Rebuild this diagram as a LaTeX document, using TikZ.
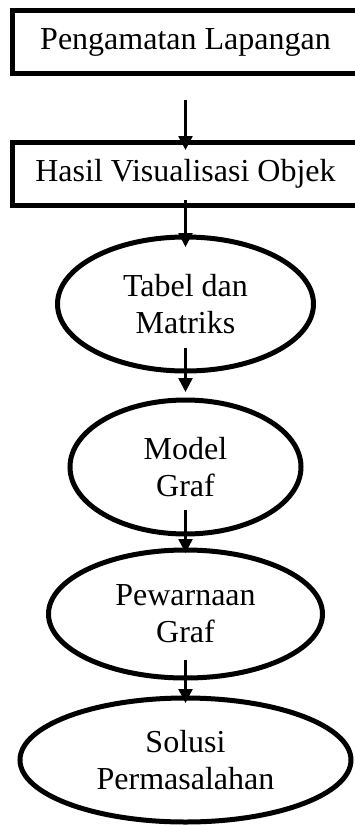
\documentclass[tikz,border=0pt]{standalone}
\usepackage{fontspec}
\setmainfont{Liberation Serif}
\usetikzlibrary{shapes.geometric,arrows.meta}
\begin{document}
\begin{tikzpicture}[
    x=1pt, y=-1pt,
    font=\fontsize{32}{37}\selectfont,
    block/.style={rectangle, draw, line width=5pt, minimum width=346pt, minimum height=63pt, inner sep=0pt},
    oval/.style={ellipse, draw, line width=5pt, align=center, inner sep=0pt},
    arrow/.style={-{Triangle[width=14pt,length=14pt]}, line width=2.5pt}
]
\useasboundingbox (0,0) rectangle (355,825);
\clip (0,0) rectangle (355,825);

% Define nodes
\node (n1) [block] at (185.5,42) {Pengamatan Lapangan};
\node (n2) [block] at (185.5,174) {Hasil Visualisasi Objek};
\node (n3) [oval, minimum width=256pt, minimum height=134pt] at (185.5,304) {Tabel dan\\Matriks};
\node (n4) [oval, minimum width=231pt, minimum height=134pt] at (185.5,467) {Model\\Graf};
\node (n5) [oval, minimum width=274pt, minimum height=128pt] at (185.5,614) {Pewarnaan\\Graf};
\node (n6) [oval, minimum width=331pt, minimum height=124pt] at (185.5,760) {Solusi\\Permasalahan};

% Connect nodes
\draw [arrow, shorten <=24pt, shorten >=-10pt] (n1) -- (n2);
\draw [arrow, shorten <=-8pt, shorten >=-12.5pt] (n2) -- (n3);
\draw [arrow, shorten <=-25.5pt, shorten >=5.5pt] (n3) -- (n4);
\draw [arrow, shorten <=-26.5pt, shorten >=-5.5pt] (n4) -- (n5);
\draw [arrow, shorten <=-20.5pt, shorten >=-7.5pt] (n5) -- (n6);
\end{tikzpicture}
\end{document}
